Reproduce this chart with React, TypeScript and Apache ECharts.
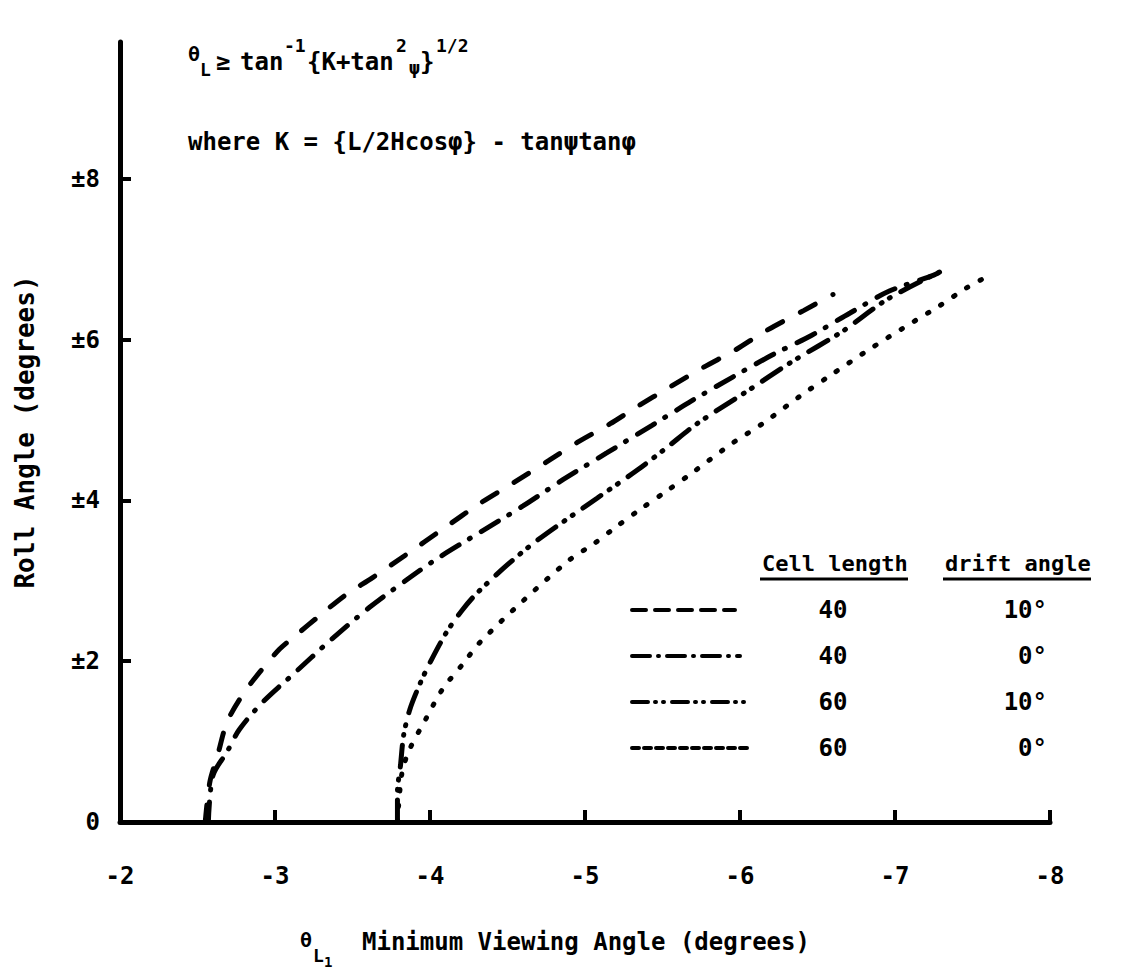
import React, { useEffect, useRef } from "react";
import * as echarts from "echarts";

const xTicks = [-2, -3, -4, -5, -6, -7, -8];
const yTicks = [0, 2, 4, 6, 8];
const yTickLabels = ["0", "±2", "±4", "±6", "±8"];
const seriesNames = ["40 / 10°", "40 / 0°", "60 / 10°", "60 / 0°"];
const cellLengths = ["40", "40", "60", "60"];
const driftAngles = ["10°", "0°", "10°", "0°"];

const curve40d10 = [
  [-2.55, 0], [-2.58, 0.5], [-2.63, 0.83], [-2.69, 1.24], [-2.79, 1.58], [-2.9, 1.86],
  [-3.03, 2.15], [-3.14, 2.33], [-3.29, 2.57], [-3.46, 2.83], [-3.63, 3.04], [-3.85, 3.33],
  [-4.08, 3.64], [-4.32, 3.96], [-4.54, 4.22], [-4.77, 4.5], [-4.95, 4.72], [-5.16, 4.95],
  [-5.34, 5.17], [-5.54, 5.4], [-5.76, 5.65], [-5.97, 5.87], [-6.16, 6.1], [-6.41, 6.36],
  [-6.6, 6.56],
];
const curve40d0 = [
  [-2.57, 0], [-2.6, 0.58], [-2.69, 0.87], [-2.77, 1.15], [-2.92, 1.49], [-3.13, 1.86],
  [-3.34, 2.23], [-3.61, 2.67], [-3.87, 3.04], [-4.05, 3.28], [-4.32, 3.6], [-4.6, 3.93],
  [-4.86, 4.26], [-5.14, 4.59], [-5.43, 4.93], [-5.69, 5.24], [-5.95, 5.53], [-6.21, 5.81],
  [-6.46, 6.05], [-6.71, 6.33], [-6.96, 6.6], [-7.25, 6.8], [-7.31, 6.86],
];
const curve60d10 = [
  [-3.79, 0], [-3.79, 0.37], [-3.81, 0.71], [-3.83, 1.08], [-3.87, 1.4], [-3.94, 1.74],
  [-4.01, 2.02], [-4.11, 2.37], [-4.21, 2.64], [-4.3, 2.84], [-4.5, 3.2], [-4.69, 3.5],
  [-5.08, 4.03], [-5.34, 4.38], [-5.53, 4.66], [-5.72, 4.95], [-6.04, 5.35], [-6.34, 5.73],
  [-6.66, 6.1], [-6.95, 6.5], [-7.31, 6.86],
];
const curve60d0 = [
  [-3.79, 0], [-3.82, 0.62], [-3.87, 0.91], [-3.97, 1.27], [-4.08, 1.65], [-4.21, 1.96],
  [-4.32, 2.23], [-4.6, 2.75], [-4.9, 3.26], [-5.05, 3.45], [-5.18, 3.64], [-5.35, 3.88],
  [-5.53, 4.12], [-5.69, 4.34], [-5.95, 4.71], [-6.15, 4.96], [-6.39, 5.3], [-6.58, 5.55],
  [-6.82, 5.86], [-7.05, 6.14], [-7.28, 6.41], [-7.46, 6.64], [-7.63, 6.82],
];
const curves = [curve40d10, curve40d0, curve60d10, curve60d0];

const FONT_FAMILY = "'DejaVu Sans Mono', monospace";
const dashPatterns = [[17, 20], [20, 12, 1, 13], [22, 10, 1, 9, 1, 12], [1.5, 14]];
const legendDash = [[14, 9], [18, 8, 1, 8], [16, 7, 1, 7, 1, 8], [7, 5]];

function txt(text: string, x: number, y: number, size: number, align = "left", extra: any = {}) {
  return {
    type: "text",
    x,
    y,
    ...extra,
    style: {
      text,
      fill: "#000",
      font: `bold ${size}px ${FONT_FAMILY}`,
      align,
      verticalAlign: "middle",
      textAlign: align,
      textVerticalAlign: "middle",
    },
  };
}

export default function App() {
  const ref = useRef<HTMLDivElement>(null);
  useEffect(() => {
    if (!ref.current) return;
    const chart = echarts.init(ref.current, undefined, { renderer: "svg" });

    const graphics: any[] = [];
    // formula line 1
    graphics.push(txt("θ", 188, 54, 20));
    graphics.push(txt("L", 200, 69, 18));
    graphics.push(txt("≥", 216, 62, 24));
    graphics.push(txt("tan", 240, 62, 24));
    graphics.push(txt("-1", 284, 45, 18));
    graphics.push(txt("{K+tan", 307, 62, 24));
    graphics.push(txt("2", 396, 45, 18));
    graphics.push(txt("ψ", 409, 67, 18));
    graphics.push(txt("}", 420, 62, 24));
    graphics.push(txt("1/2", 436, 45, 18));
    // formula line 2
    graphics.push(txt("where K = {L/2Hcosφ} - tanψtanφ", 188, 142, 24));
    // x axis title
    graphics.push(txt("θ", 300, 940, 20));
    graphics.push(txt("L", 313, 955, 18));
    graphics.push(txt("1", 324, 962, 14));
    graphics.push(txt("Minimum Viewing Angle (degrees)", 362, 942, 24));

    // legend
    const hdrY = 563;
    graphics.push(txt("Cell length", 762, hdrY, 22));
    graphics.push(txt("drift angle", 945, hdrY, 22));
    graphics.push({ type: "line", shape: { x1: 760, y1: hdrY + 16, x2: 908, y2: hdrY + 16 }, style: { stroke: "#000", lineWidth: 3 } });
    graphics.push({ type: "line", shape: { x1: 943, y1: hdrY + 16, x2: 1091, y2: hdrY + 16 }, style: { stroke: "#000", lineWidth: 3 } });
    const rowYs = [610, 656, 702, 748];
    const sampleEnds = [735, 740, 745, 750];
    for (let i = 0; i < 4; i++) {
      graphics.push({
        type: "line",
        shape: { x1: 632, y1: rowYs[i], x2: sampleEnds[i], y2: rowYs[i] },
        style: { stroke: "#000", lineWidth: 4, lineDash: legendDash[i], lineCap: "round" },
      });
      graphics.push(txt(cellLengths[i], 833, rowYs[i], 24, "center"));
      graphics.push(txt(driftAngles[i], 1047, rowYs[i], 24, "right"));
    }

    chart.setOption({
      animation: false,
      backgroundColor: "#fff",
      grid: { left: 120, right: 98, top: 42, bottom: 152, containLabel: false },
      xAxis: {
        type: "value",
        min: -8,
        max: -2,
        inverse: true,
        axisLine: { show: true, lineStyle: { color: "#000", width: 5 } },
        axisTick: { show: true, inside: true, length: 12, customValues: xTicks, lineStyle: { color: "#000", width: 4 } },
        axisLabel: {
          customValues: xTicks,
          margin: 42,
          color: "#000",
          fontFamily: FONT_FAMILY,
          fontWeight: "bold",
          fontSize: 24,
          formatter: (v: number) => String(v),
        },
        splitLine: { show: false },
      },
      yAxis: {
        type: "value",
        min: 0,
        max: 9.7,
        name: "Roll Angle (degrees)",
        nameLocation: "middle",
        nameRotate: 90,
        nameGap: 82,
        nameTextStyle: { color: "#000", fontFamily: FONT_FAMILY, fontWeight: "bold", fontSize: 26 },
        axisLine: { show: true, lineStyle: { color: "#000", width: 5 } },
        axisTick: { show: true, inside: true, length: 11, customValues: yTicks, lineStyle: { color: "#000", width: 4 } },
        axisLabel: {
          customValues: yTicks,
          margin: 20,
          color: "#000",
          fontFamily: FONT_FAMILY,
          fontWeight: "bold",
          fontSize: 24,
          formatter: (v: number) => {
            const i = yTicks.indexOf(v);
            return i >= 0 ? yTickLabels[i] : "";
          },
        },
        splitLine: { show: false },
      },
      series: curves.map((d, i) => ({
        name: seriesNames[i],
        type: "line",
        data: d,
        showSymbol: false,
        smooth: 0.3,
        lineStyle: { color: "#000", width: 5, type: dashPatterns[i], cap: "round" },
        z: 3,
      })),
      graphic: graphics,
    });
    return () => chart.dispose();
  }, []);
  return <div ref={ref} style={{ position: "fixed", left: 0, top: 0, width: 1148, height: 974, background: "#fff" }} />;
}
